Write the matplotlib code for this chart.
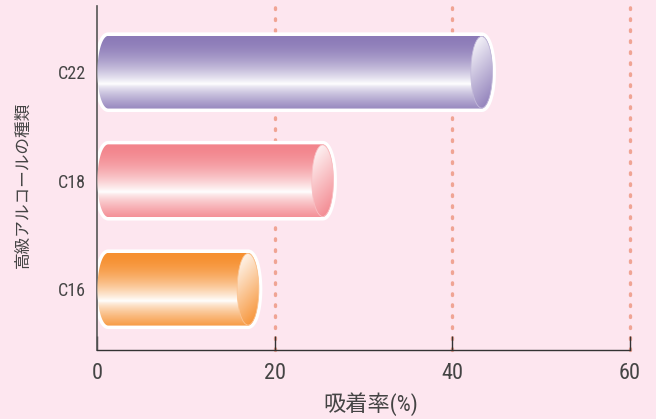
import numpy as np
import matplotlib
matplotlib.use("Agg")
import matplotlib.pyplot as plt
from matplotlib.path import Path
from matplotlib.patches import PathPatch, Ellipse
from matplotlib import font_manager

# ---- data ----
categories = ["C16", "C18", "C22"]
values = [17.0, 25.4, 43.3]
bar_colors = ["#f68a25", "#f27e86", "#8674b4"]
xticks = [0, 20, 40, 60]
xlabel = "吸着率(%)"
ylabel = "高級アルコールの種類"

names = sorted({f.name for f in font_manager.fontManager.ttflist})
narrow = "Roboto"
for cand in ["Liberation Sans Narrow", "Roboto Condensed", "Open Sans Condensed",
             "DejaVu Sans Condensed", "Noto Sans Condensed"]:
    if cand in names:
        narrow = cand
        break
else:
    for nm in names:
        if "Condensed" in nm or "Narrow" in nm:
            narrow = nm
            break
plt.rcParams['font.family'] = [narrow, 'Noto Sans CJK JP', 'DejaVu Sans']

BG = "#fde6ef"
TXT = "#444444"

fig = plt.figure(figsize=(6.56, 4.19), dpi=100, facecolor=BG)
ax = fig.add_axes([97/656, 1-350/419, 533/656, 344/419])
ax.set_facecolor(BG)
ax.set_xlim(0, 60)
ax.set_ylim(-0.56, 2.61)

# grid
for xv in xticks[1:]:
    ax.axvline(xv, color="#f0a494", lw=2.4, ls=(0, (0.5, 2.8)), dash_capstyle='round',
               zorder=0.5, clip_on=False)

bh = 0.67          # bar height in data units
a = 1.22           # half-width of the cylinder end ellipse in x-data units
b = bh / 2

def mix(c, w):
    c = np.array(matplotlib.colors.to_rgb(c))
    return c + (1 - c) * w

def body_profile(n=200):
    t = np.linspace(0, 1, n)
    w = np.where(t < 0.66, 0.05 + 0.95 * (t / 0.66) ** 1.8,
                 1 - 0.85 * ((t - 0.66) / 0.34) ** 0.7)
    return w

def cyl_path(x0, x1, yc):
    th1 = np.linspace(np.pi/2, -np.pi/2, 60)   # right half
    th2 = np.linspace(-np.pi/2, -3*np.pi/2, 60)  # left half
    xs = np.concatenate([x1 + a*np.cos(th1), x0 + a*np.cos(th2)])
    ys = np.concatenate([yc + b*np.sin(th1), yc + b*np.sin(th2)])
    verts = np.column_stack([xs, ys])
    verts = np.vstack([verts, verts[:1]])
    codes = [Path.MOVETO] + [Path.LINETO]*(len(verts)-2) + [Path.CLOSEPOLY]
    return Path(verts, codes)

for i, (cat, v, col) in enumerate(zip(categories, values, bar_colors)):
    x0 = 0.05 + a
    path = cyl_path(x0, v, i)
    # white outline
    ax.add_patch(PathPatch(path, facecolor="white", edgecolor="white", lw=5, zorder=2))
    clip = PathPatch(path, facecolor="none", edgecolor="none", transform=ax.transData)
    ax.add_patch(clip)
    w = body_profile()
    img = np.array([mix(col, wi) for wi in w])[:, None, :]
    im = ax.imshow(img, extent=[x0 - a, v + a, i - b, i + b], aspect='auto',
                   origin='upper', zorder=3, interpolation='bilinear')
    im.set_clip_path(clip)
    # end cap
    cap = Ellipse((v, i), 2*a, 2*b*0.985, facecolor="none", edgecolor="none")
    ax.add_patch(cap)
    n = 120
    yy, xx = np.mgrid[0:1:n*1j, 0:1:n*1j]
    wc = np.clip(0.9 - 0.75*yy - 0.25*xx + 0.1, 0.05, 0.92)
    cimg = mix(col, 0)[None, None, :] + (1 - mix(col, 0))[None, None, :] * wc[..., None]
    ci = ax.imshow(cimg, extent=[v - a, v + a, i - b, i + b], aspect='auto',
                   origin='upper', zorder=4, interpolation='bilinear')
    ci.set_clip_path(cap)
    ax.add_patch(Ellipse((v, i), 2*a, 2*b*0.985, facecolor="none",
                         edgecolor=mix(col, 0.5), lw=0.6, zorder=5))

ax.set_xlim(0, 60)
ax.set_ylim(-0.56, 2.61)

ax.set_yticks(range(len(categories)))
ax.set_yticklabels(categories, fontsize=13, color=TXT)
ax.tick_params(axis='y', length=0, pad=8)
ax.set_xticks(xticks)
ax.set_xticklabels([str(t) for t in xticks], fontsize=16, color=TXT)
ax.tick_params(axis='x', direction='in', length=10, width=1, color="#333333", pad=9)

for s in ['top', 'right']:
    ax.spines[s].set_visible(False)
ax.spines['left'].set_color("#555555")
ax.spines['bottom'].set_color("#333333")
ax.spines['left'].set_linewidth(1.2)
ax.spines['bottom'].set_linewidth(1.0)

fig.text(23/656, 1-185/419, ylabel, rotation=90, ha='center', va='center',
         fontsize=12, color=TXT, family=['Noto Sans CJK JP'])
fig.text(371/656, 1-404/419, xlabel, ha='center', va='center',
         fontsize=16, color=TXT, family=[narrow, 'Noto Sans CJK JP'])

fig.savefig("out.png", dpi=100, facecolor=BG)
